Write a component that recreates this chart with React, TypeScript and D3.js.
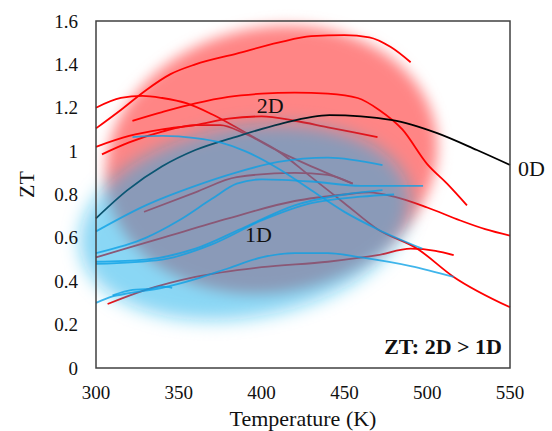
import React from 'react';
import * as d3 from 'd3';

type Pt = [number, number];

const xTicks = [300, 350, 400, 450, 500, 550];
const yTicks = [0, 0.2, 0.4, 0.6, 0.8, 1, 1.2, 1.4, 1.6];
const yTickLabels = ['0', '0.2', '0.4', '0.6', '0.8', '1', '1.2', '1.4', '1.6'];

// 0D
const zeroD: Pt[] = [[300, 0.69], [319, 0.82], [340, 0.93], [360, 1.005], [384, 1.065], [411, 1.125], [441, 1.166], [479, 1.143], [506, 1.083], [530, 1.005], [550, 0.936]];

// 2D (red)
const redC: Pt[] = [[300, 1.105], [315, 1.19], [330, 1.28], [345, 1.355], [360, 1.40], [385, 1.45], [410, 1.50], [430, 1.53], [450, 1.535], [465, 1.525], [478, 1.48], [490, 1.41]];
const redA: Pt[] = [[300, 1.2], [315, 1.245], [328, 1.255], [340, 1.245], [355, 1.22], [370, 1.17], [380, 1.13], [395, 1.065], [410, 1.0], [430, 0.88], [450, 0.76], [470, 0.64], [494, 0.55], [516, 0.42], [550, 0.28]];
const redD: Pt[] = [[322, 1.14], [340, 1.18], [360, 1.22], [380, 1.25], [400, 1.265], [420, 1.27], [440, 1.265], [458, 1.245], [471, 1.19], [485, 1.1], [500, 0.94], [512, 0.85], [524, 0.75]];
const redE: Pt[] = [[300, 1.02], [320, 1.07], [340, 1.1], [360, 1.12], [380, 1.15], [400, 1.16], [420, 1.14], [440, 1.11], [470, 1.065]];
const redF: Pt[] = [[303.6, 0.985], [320, 1.04], [340, 1.09], [360, 1.12], [375, 1.12], [390, 1.08], [410, 1.0], [430, 0.93], [455, 0.85]];
const redH: Pt[] = [[300, 0.51], [340, 0.6], [380, 0.69], [420, 0.77], [450, 0.8], [465, 0.81], [480, 0.79], [500, 0.74], [520, 0.68], [535, 0.64], [550, 0.61]];
const redI: Pt[] = [[307, 0.295], [330, 0.36], [360, 0.42], [400, 0.465], [440, 0.49], [470, 0.52], [490, 0.55], [505, 0.54], [516, 0.52]];
const redJ: Pt[] = [[329, 0.72], [360, 0.81], [385, 0.88], [420, 0.9], [440, 0.89], [455, 0.85]];
const redSeries: Pt[][] = [redC, redA, redD, redE, redF, redH, redI, redJ];

// 1D (blue)
const blue1: Pt[] = [[322, 1.065], [340, 1.07], [360, 1.06], [375, 1.04], [390, 1.0], [410, 0.92], [430, 0.82], [450, 0.72], [470, 0.64], [497, 0.55]];
const blue2: Pt[] = [[300, 0.63], [330, 0.75], [360, 0.84], [384, 0.9], [410, 0.95], [440, 0.97], [473, 0.935]];
const blue3: Pt[] = [[300, 0.53], [330, 0.6], [350, 0.68], [370, 0.78], [385, 0.85], [400, 0.87], [430, 0.86], [460, 0.84], [497.5, 0.84]];
const blue4: Pt[] = [[300, 0.49], [330, 0.5], [360, 0.55], [390, 0.65], [420, 0.75], [450, 0.8], [473, 0.82]];
const blue5: Pt[] = [[300, 0.48], [340, 0.5], [370, 0.57], [400, 0.68], [430, 0.76], [460, 0.79], [480, 0.8]];
const blue6: Pt[] = [[300, 0.3], [310, 0.33], [320, 0.345], [340, 0.37], [360, 0.41], [380, 0.46], [400, 0.51], [420, 0.53], [440, 0.53], [460, 0.51], [490, 0.47], [516, 0.42]];
const blue7: Pt[] = [[310, 0.335], [322, 0.36], [332, 0.365], [340, 0.375], [346, 0.37]];
const blueSeries: Pt[][] = [blue1, blue2, blue3, blue4, blue5, blue6, blue7];

// soft regions: [centre T, centre ZT, radius T, radius ZT, rotation deg]
const redRegion = [406, 0.96, 101, 0.61, -12];
const blueRegion = [390, 0.673, 101, 0.44, -10];

const regionLabels = ['2D', '1D'];
const regionLabelPos: Pt[] = [[397, 1.176], [390, 0.58]];
const zeroDLabel = '0D';
const noteText = 'ZT: 2D > 1D';
const xTitle = 'Temperature (K)';
const yTitle = 'ZT';

const W = 552, H = 431;
const PL = 96, PR = 510, PT = 21, PB = 368;

export default function App() {
  const x = d3.scaleLinear().domain([300, 550]).range([PL, PR]);
  const y = d3.scaleLinear().domain([0, 1.6]).range([PB, PT]);
  const line = d3.line<Pt>().x(d => x(d[0])).y(d => y(d[1])).curve(d3.curveMonotoneX);
  const font = '"Liberation Serif", "Times New Roman", serif';

  const ell = (r: number[]) => {
    const cx = x(r[0]), cy = y(r[1]);
    const rx = x(r[0] + r[2]) - cx, ry = cy - y(r[1] + r[3]);
    return { cx, cy, rx, ry, rot: r[4] };
  };
  const rr = ell(redRegion);
  const br = ell(blueRegion);
  const last0 = zeroD[zeroD.length - 1];

  return (
    <div style={{ position: 'absolute', left: 0, top: 0 }}>
      <svg width={W} height={H} style={{ display: 'block', background: '#fff' }}>
        <defs>
          <filter id="blurR" x="-50%" y="-50%" width="200%" height="200%">
            <feGaussianBlur stdDeviation="7" />
          </filter>
          <filter id="blurB" x="-50%" y="-50%" width="200%" height="200%">
            <feGaussianBlur stdDeviation="9" />
          </filter>
        </defs>
        <ellipse cx={rr.cx} cy={rr.cy} rx={rr.rx} ry={rr.ry} transform={`rotate(${rr.rot} ${rr.cx} ${rr.cy})`} fill="#ff8585" filter="url(#blurR)" />
        {redSeries.map((s, i) => (
          <path key={'r' + i} d={line(s) || ''} fill="none" stroke="#ff0000" strokeWidth={1.8} />
        ))}
        <path d={line(zeroD) || ''} fill="none" stroke="#000" strokeWidth={1.8} />
        <ellipse cx={br.cx} cy={br.cy} rx={br.rx} ry={br.ry} transform={`rotate(${br.rot} ${br.cx} ${br.cy})`} fill="#14afeb" fillOpacity={0.5} filter="url(#blurB)" />
        {blueSeries.map((s, i) => (
          <path key={'b' + i} d={line(s) || ''} fill="none" stroke="#0aa0e6" strokeOpacity={0.78} strokeWidth={1.8} />
        ))}
        <rect x={PL} y={PT} width={PR - PL} height={PB - PT} fill="none" stroke="#404040" strokeWidth={1.5} />
        {yTicks.map((t, i) => (
          <text key={'y' + t} x={78} y={y(t) + 6.5} textAnchor="end" fontFamily={font} fontSize={19} fill="#111">{yTickLabels[i]}</text>
        ))}
        {xTicks.map(t => (
          <text key={'x' + t} x={x(t)} y={399} textAnchor="middle" fontFamily={font} fontSize={19} fill="#111">{t}</text>
        ))}
        <text x={(PL + PR) / 2} y={426} textAnchor="middle" fontFamily={font} fontSize={22} fill="#111">{xTitle}</text>
        <text transform={`translate(34 ${(PT + PB) / 2 - 10}) rotate(-90)`} textAnchor="middle" fontFamily={font} fontSize={22} fill="#111">{yTitle}</text>
        {regionLabels.map((l, i) => (
          <text key={l} x={x(regionLabelPos[i][0])} y={y(regionLabelPos[i][1])} fontFamily={font} fontSize={22} fill="#111">{l}</text>
        ))}
        <text x={x(last0[0]) + 8} y={y(last0[1]) + 11} fontFamily={font} fontSize={22} fill="#111">{zeroDLabel}</text>
        <text x={PR - 8} y={354} textAnchor="end" fontFamily={font} fontSize={22} fontWeight="bold" fill="#111">{noteText}</text>
      </svg>
    </div>
  );
}
